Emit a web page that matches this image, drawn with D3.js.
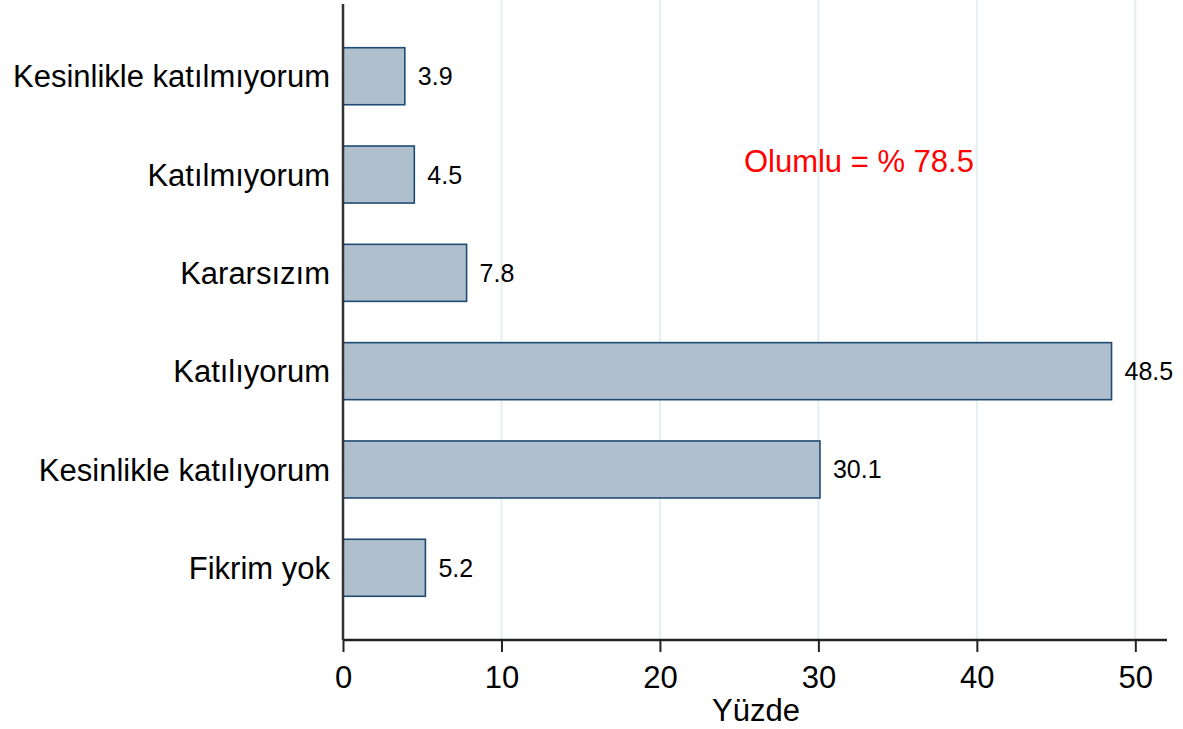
<!DOCTYPE html>
<html lang="tr">
<head>
  <meta charset="UTF-8">
  <title>Yüzde</title>
  <script src="https://d3js.org/d3.v7.min.js"></script>
  <style>
    body { margin: 0; background: #fff; }
    text { font-family: "Liberation Sans", Arial, sans-serif; fill: #000; }
    .grid line { stroke: #e6eef1; stroke-width: 2px; }
    .bar { fill: #b0bfcd; stroke: #1f4a73; stroke-width: 1.6px; }
  </style>
</head>
<body>
  <svg id="chart"></svg>
  <script>
    const categories = ["Kesinlikle katılmıyorum", "Katılmıyorum", "Kararsızım", "Katılıyorum", "Kesinlikle katılıyorum", "Fikrim yok"];
    const values = [3.9, 4.5, 7.8, 48.5, 30.1, 5.2];
    const xTicks = [0, 10, 20, 30, 40, 50];
    const note = "Olumlu = % 78.5";

    const width = 1183, height = 729;
    const margin = { left: 343, right: 16, top: 4, bottom: 89 };

    const svg = d3.select("#chart").attr("width", width).attr("height", height);

    const x = d3.scaleLinear().domain([0, 52]).range([margin.left, width - margin.right]);
    const y = d3.scaleBand().domain(categories)
      .range([2, height - margin.bottom + 2])
      .paddingInner(0.42).paddingOuter(0.465);

    const bottom = height - margin.bottom;

    // vertical grid lines
    svg.append("g").attr("class", "grid")
      .selectAll("line")
      .data(xTicks.filter(d => d > 0))
      .join("line")
      .attr("x1", d => x(d)).attr("x2", d => x(d))
      .attr("y1", 0).attr("y2", bottom);

    // bars
    svg.selectAll(".bar")
      .data(values)
      .join("rect")
      .attr("class", "bar")
      .attr("x", x(0))
      .attr("y", (d, i) => y(categories[i]))
      .attr("width", d => x(d) - x(0))
      .attr("height", y.bandwidth());

    // value labels
    svg.selectAll(".val")
      .data(values)
      .join("text")
      .attr("class", "val")
      .attr("x", d => x(d) + 13)
      .attr("y", (d, i) => y(categories[i]) + y.bandwidth() / 2)
      .attr("dy", "0.36em")
      .style("font-size", "25px")
      .text(d => d.toFixed(1));

    // category labels
    svg.selectAll(".cat")
      .data(categories)
      .join("text")
      .attr("class", "cat")
      .attr("x", x(0) - 13)
      .attr("y", d => y(d) + y.bandwidth() / 2)
      .attr("dy", "0.36em")
      .attr("text-anchor", "end")
      .style("font-size", "31px")
      .text(d => d);

    // x axis
    const xAxis = svg.append("g")
      .attr("transform", `translate(0,${bottom})`)
      .call(d3.axisBottom(x).tickValues(xTicks).tickSize(12).tickPadding(14).tickFormat(d3.format("d")));
    xAxis.select(".domain").attr("stroke", "#222").attr("stroke-width", 2.5)
      .attr("d", `M${x(0)},0H${width - margin.right}`);
    xAxis.selectAll(".tick line").attr("stroke", "#222").attr("stroke-width", 2);
    xAxis.selectAll(".tick text").style("font-size", "31px").attr("fill", "#000")
      .style("font-family", "'Liberation Sans', Arial, sans-serif");

    // y axis line
    svg.append("line")
      .attr("x1", x(0)).attr("x2", x(0))
      .attr("y1", margin.top).attr("y2", bottom)
      .attr("stroke", "#333").attr("stroke-width", 2.5);

    // axis title
    svg.append("text")
      .attr("x", (x(0) + x(52)) / 2 + 1)
      .attr("y", 721)
      .attr("text-anchor", "middle")
      .style("font-size", "31px")
      .text("Yüzde");

    // annotation
    svg.append("text")
      .attr("x", x(25.3))
      .attr("y", y(categories[1]) + y.bandwidth() / 2 - 3)
      .style("font-size", "31px")
      .style("fill", "#ff0000")
      .text(note);
  </script>
</body>
</html>
